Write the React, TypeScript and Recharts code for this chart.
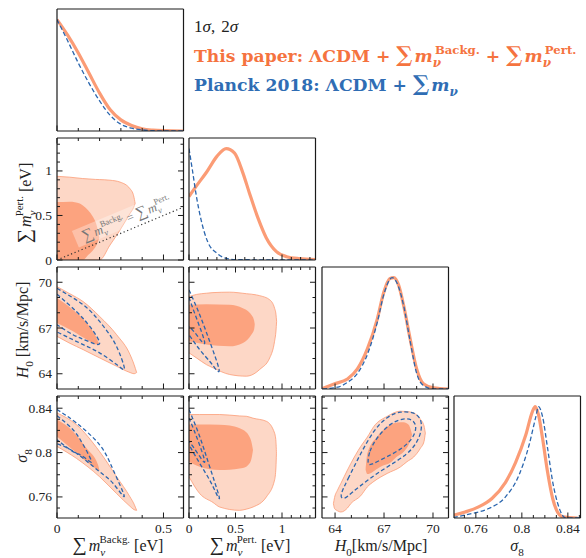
import React from 'react';
import { ComposedChart, Area, Line, XAxis, YAxis, ReferenceLine, ReferenceDot } from 'recharts';

// ticks
const backgTicks = [0, 0.1, 0.2, 0.3, 0.4, 0.5];
const backgMajor = [0, 0.5];
const pertTicks = [0, 0.1, 0.2, 0.3, 0.4, 0.5, 0.6, 0.7, 0.8, 0.9, 1, 1.1, 1.2, 1.3];
const pertMajor = [0, 0.5, 1];
const h0Ticks = [64, 65, 66, 67, 68, 69, 70];
const h0Major = [64, 67, 70];
const s8Ticks = [0.75, 0.76, 0.77, 0.78, 0.79, 0.8, 0.81, 0.82, 0.83, 0.84, 0.85];
const s8Major = [0.76, 0.8, 0.84];

// axis ranges
const backgRange = [0, 0.594];
const pertRangeX = [0, 1.36];
const pertRangeY = [0, 1.37];
const h0RangeX = [63.2, 70.95];
const h0RangeY = [63, 71];
const s8Range = [0.741, 0.851];
const pdfRange = [0, 1.095];
const equalLine = [0, 0.594];

// 1D marginals (normalised to peak)
const backgX = [0, 0.05, 0.1, 0.15, 0.2, 0.25, 0.3, 0.35, 0.4, 0.45, 0.5, 0.594];
const backgThis = [1, 0.86, 0.7, 0.52, 0.34, 0.19, 0.1, 0.05, 0.02, 0.008, 0.003, 0];
const backgPlanck = [1, 0.81, 0.61, 0.43, 0.27, 0.14, 0.06, 0.025, 0.01, 0.003, 0.001, 0];

const pertX = [0, 0.08, 0.19, 0.3, 0.4, 0.49, 0.58, 0.65, 0.74, 0.83, 0.94, 1.05, 1.19, 1.36];
const pertThis = [0.57, 0.665, 0.79, 0.93, 1.0, 0.96, 0.78, 0.6, 0.38, 0.2, 0.075, 0.03, 0.012, 0.004];
const pertPlanckX = [0, 0.036, 0.08, 0.13, 0.2, 0.3, 0.4, 0.5, 1.36];
const pertPlanck = [1.0, 0.81, 0.57, 0.36, 0.165, 0.06, 0.015, 0.003, 0];

const h0X = [63.23, 63.94, 64.76, 65.37, 65.98, 66.59, 66.99, 67.35, 67.6, 67.9, 68.2, 68.6, 69.0, 69.43, 70.04, 70.95];
const h0This = [0.005, 0.045, 0.09, 0.18, 0.36, 0.63, 0.87, 0.99, 1.0, 0.93, 0.75, 0.45, 0.18, 0.045, 0.01, 0];
const h0PlanckX = [63.23, 64.25, 64.76, 65.37, 65.98, 66.59, 66.99, 67.5, 67.8, 68.2, 68.6, 69.0, 69.43, 70.04, 70.95];
const h0Planck = [0, 0.02, 0.06, 0.14, 0.31, 0.6, 0.85, 1.0, 0.95, 0.75, 0.43, 0.14, 0.03, 0, 0];

const s8X = [0.7404, 0.7507, 0.7624, 0.774, 0.7858, 0.7946, 0.8034, 0.8092, 0.8116, 0.8145, 0.818, 0.8224, 0.8268, 0.8312, 0.8356, 0.8485];
const s8This = [0.024, 0.054, 0.1, 0.175, 0.32, 0.5, 0.745, 0.955, 1.0, 0.925, 0.715, 0.41, 0.175, 0.05, 0.01, 0];
const s8PlanckX = [0.7404, 0.7565, 0.7712, 0.7858, 0.7975, 0.8063, 0.8122, 0.8145, 0.818, 0.8224, 0.8268, 0.8312, 0.8356, 0.8385, 0.851];
const s8Planck = [0.005, 0.04, 0.085, 0.19, 0.385, 0.655, 0.91, 1.0, 0.91, 0.625, 0.325, 0.13, 0.02, 0, 0];

// Backg. vs Pert. (this paper only)
const bpLightX = [0, 0.06, 0.12, 0.18, 0.2, 0.249, 0.296, 0.343, 0.36, 0.367];
const bpLightLo = [0, 0, 0, 0, 0, 0.168, 0.336, 0.523, 0.59, 0.635];
const bpLightHi = [0.94, 0.93, 0.915, 0.905, 0.903, 0.896, 0.875, 0.8, 0.72, 0.635];
const bpDarkX = [0, 0.06, 0.107, 0.123, 0.146, 0.17, 0.185, 0.199];
const bpDarkLo = [0, 0, 0, 0, 0.055, 0.112, 0.165, 0.25];
const bpDarkHi = [0.65, 0.655, 0.635, 0.61, 0.56, 0.48, 0.4, 0.25];

// Backg. vs H0
const bhLightX = [0, 0.06, 0.123, 0.2, 0.28, 0.343, 0.362, 0.374];
const bhLightLo = [66.45, 66.0, 65.58, 65.04, 64.49, 64.08, 64.0, 64.08];
const bhLightHi = [69.71, 69.25, 68.73, 67.76, 66.56, 65.26, 64.6, 64.08];
const bhDarkX = [0, 0.075, 0.139, 0.186, 0.198];
const bhDarkLo = [67.33, 66.78, 66.24, 65.91, 65.96];
const bhDarkHi = [68.96, 68.19, 67.33, 66.35, 65.96];
const bhOuterX = [0, 0.123, 0.2, 0.264, 0.303, 0.316, 0.28, 0.2, 0.123, 0];
const bhOuterY = [69.6, 68.52, 67.43, 66.2, 65.0, 64.28, 64.6, 65.37, 65.91, 66.74];
const bhInnerX = [0, 0.091, 0.154, 0.2, 0.139, 0.075, 0];
const bhInnerY = [69.22, 68.08, 67.1, 65.98, 66.17, 66.56, 67.21];

// Backg. vs sigma8
const bsLightX = [0, 0.091, 0.2, 0.28, 0.343, 0.362, 0.374];
const bsLightLo = [0.8055, 0.7948, 0.7782, 0.763, 0.7515, 0.7485, 0.7479];
const bsLightHi = [0.8357, 0.8252, 0.8009, 0.7782, 0.76, 0.7535, 0.7479];
const bsDarkX = [0, 0.075, 0.139, 0.193, 0.2];
const bsDarkLo = [0.8145, 0.8024, 0.7918, 0.7843, 0.7835];
const bsDarkHi = [0.8297, 0.8191, 0.8039, 0.7888, 0.7835];
const bsOuterX = [0, 0.091, 0.2, 0.264, 0.316, 0.264, 0.2, 0.091, 0];
const bsOuterY = [0.8388, 0.8267, 0.807, 0.7843, 0.7606, 0.7721, 0.7827, 0.7994, 0.8079];
const bsInnerX = [0, 0.075, 0.123, 0.162, 0.123, 0.075, 0];
const bsInnerY = [0.8333, 0.8206, 0.807, 0.7918, 0.7964, 0.8009, 0.8115];

// Pert. vs H0
const phLightX = [0, 0.08, 0.187, 0.258, 0.437, 0.617, 0.725, 0.76, 0.868, 0.92, 0.935, 0.942];
const phLightLo = [65.37, 65.04, 64.6, 64.39, 63.95, 63.84, 64.1, 64.28, 65.04, 66.13, 66.8, 67.43];
const phLightHi = [69.06, 69.2, 69.28, 69.32, 69.35, 69.25, 69.17, 69.12, 68.85, 68.3, 67.9, 67.43];
const phDarkX = [0, 0.187, 0.437, 0.58, 0.67, 0.7, 0.707];
const phDarkLo = [66.13, 65.91, 65.8, 66.02, 66.56, 66.9, 67.25];
const phDarkHi = [68.52, 68.56, 68.52, 68.3, 67.87, 67.5, 67.25];
const phOuterX = [0, 0.115, 0.222, 0.323, 0.276, 0.222, 0.115, 0];
const phOuterY = [69.5, 67.87, 66.13, 64.28, 64.39, 64.82, 65.58, 66.56];
const phInnerX = [0, 0.08, 0.169, 0.08, 0];
const phInnerY = [69.0, 67.65, 66.02, 66.56, 67.1];

// Pert. vs sigma8
const psLightX = [0, 0.115, 0.258, 0.33, 0.545, 0.617, 0.688, 0.832, 0.92, 0.935, 0.94];
const psLightLo = [0.7782, 0.763, 0.755, 0.7509, 0.7479, 0.749, 0.7509, 0.76, 0.7752, 0.787, 0.7994];
const psLightHi = [0.8343, 0.8343, 0.8343, 0.8343, 0.833, 0.8327, 0.831, 0.8282, 0.8176, 0.81, 0.7994];
const psDarkX = [0, 0.115, 0.33, 0.437, 0.545, 0.58, 0.652, 0.67, 0.688];
const psDarkLo = [0.7918, 0.7873, 0.7843, 0.7845, 0.7857, 0.786, 0.7903, 0.794, 0.8024];
const psDarkHi = [0.8252, 0.8252, 0.825, 0.8243, 0.822, 0.8206, 0.814, 0.81, 0.8024];
const psOuterX = [0, 0.115, 0.222, 0.323, 0.294, 0.222, 0.115, 0];
const psOuterY = [0.8388, 0.8145, 0.7873, 0.7606, 0.763, 0.7752, 0.7903, 0.807];
const psInnerX = [0, 0.08, 0.169, 0.08, 0];
const psInnerY = [0.8312, 0.8145, 0.7918, 0.8009, 0.81];

// H0 vs sigma8
const hsLightX = [63.9, 63.97, 64.15, 64.35, 64.76, 64.96, 65.57, 65.98, 66.38, 67.2, 68.0, 68.41, 68.82, 69.23, 69.45, 69.53];
const hsLightLo = [0.754, 0.7495, 0.7475, 0.7464, 0.75, 0.7539, 0.761, 0.7691, 0.774, 0.7812, 0.787, 0.7918, 0.796, 0.8039, 0.81, 0.8176];
const hsLightHi = [0.754, 0.7595, 0.7661, 0.772, 0.7843, 0.79, 0.8055, 0.814, 0.8236, 0.8327, 0.8373, 0.837, 0.8357, 0.83, 0.824, 0.8176];
const hsDarkX = [65.87, 65.98, 66.59, 66.79, 67.4, 67.8, 68.2, 68.51, 68.72];
const hsDarkLo = [0.7845, 0.7806, 0.7855, 0.7873, 0.791, 0.7964, 0.8005, 0.807, 0.816];
const hsDarkHi = [0.7845, 0.7994, 0.8145, 0.818, 0.8252, 0.827, 0.8273, 0.825, 0.816];
const hsOuterX = [64.24, 64.76, 65.57, 66.38, 67.2, 68.0, 68.82, 69.27, 69.33, 69.02, 68.41, 67.2, 65.98, 64.96, 64.55];
const hsOuterY = [0.76, 0.7752, 0.7994, 0.8206, 0.8327, 0.8373, 0.8364, 0.8312, 0.8206, 0.8085, 0.7979, 0.7873, 0.7752, 0.763, 0.7576];
const hsInnerX = [65.98, 66.07, 66.59, 67.4, 68.2, 68.82, 69.02, 68.72, 68.0, 66.99, 66.18];
const hsInnerY = [0.7888, 0.8009, 0.8145, 0.8267, 0.8312, 0.8297, 0.8221, 0.8115, 0.8024, 0.7948, 0.7888];

// layout
const COLS = [57, 189, 322, 454];
const ROWS = [9, 138, 267, 396];
const PW = 126.5;
const PH = 122;
const PAD_L = 48;
const PAD_B = 22;
const PAD_T = 2;
const PAD_R = 2;

const SERIF = '"Liberation Serif", "DejaVu Serif", serif';
const LIGHT = '#fdd7c6';
const DARK = '#fca37f';
const ORANGE = '#fb9c76';
const BLUE = '#2b66ae';
const TXT_ORANGE = '#f5733f';
const TXT_BLUE = '#2f6db4';

const band = (xs: number[], lo: number[], hi: number[]) => xs.map((x, i) => ({ x, r: [lo[i], hi[i]] }));
const pts = (xs: number[], ys: number[]) => xs.map((x, i) => ({ x, y: ys[i] }));

const Tick = (props: any) => {
  const { x, y, payload, side, major, label } = props;
  const v = payload.value;
  const big = major.some((m: number) => Math.abs(m - v) < 1e-6);
  const len = big ? 5.5 : 3;
  let x2 = x;
  let y2 = y;
  if (side === 'bottom') y2 = y - len;
  if (side === 'top') y2 = y + len;
  if (side === 'left') x2 = x + len;
  if (side === 'right') x2 = x - len;
  return (
    <g>
      <line x1={x} y1={y} x2={x2} y2={y2} stroke="#1a1a1a" strokeWidth={1} />
      {label && big && side === 'bottom' && (
        <text x={x} y={y + 15} textAnchor="middle" fontFamily={SERIF} fontSize={13.5} fill="#222">{v}</text>
      )}
      {label && big && side === 'left' && (
        <text x={x - 5} y={y + 4.5} textAnchor="end" fontFamily={SERIF} fontSize={13.5} fill="#222">{v}</text>
      )}
    </g>
  );
};

const Panel = ({ col, row, xd, yd, xt, xm, yt, ym, children }: any) => {
  const diag = col === row;
  const axisLine = { stroke: '#1a1a1a', strokeWidth: 1.2 };
  const common: any = { type: 'number', allowDataOverflow: true, interval: 0, tickSize: 0, tickMargin: 0, tickLine: false, axisLine };
  return (
    <div style={{ position: 'absolute', left: COLS[col] - PAD_L, top: ROWS[row] - PAD_T }}>
      <ComposedChart width={PW + PAD_L + PAD_R} height={PH + PAD_T + PAD_B} margin={{ top: 0, right: 0, bottom: 0, left: 0 }}>
        {children}
        <XAxis xAxisId="b" dataKey="x" orientation="bottom" height={PAD_B} domain={xd} ticks={xt}
          tick={<Tick side="bottom" major={xm} label={row === 3} />} {...common} />
        <XAxis xAxisId="t" dataKey="x" orientation="top" height={PAD_T} domain={xd} ticks={xt}
          tick={diag ? false : <Tick side="top" major={xm} />} {...common} />
        <YAxis yAxisId="l" orientation="left" width={PAD_L} domain={yd} ticks={yt}
          tick={diag ? false : <Tick side="left" major={ym} label={col === 0} />} {...common} />
        <YAxis yAxisId="r" orientation="right" width={PAD_R} domain={yd} ticks={yt}
          tick={diag ? false : <Tick side="right" major={ym} />} {...common} />
      </ComposedChart>
    </div>
  );
};

const marginal = (id: string, tx: number[], ty: number[], px: number[], py: number[]) => [
  <Line key={id + 'o'} data={pts(tx, ty)} dataKey="y" xAxisId="b" yAxisId="l" type="monotone" stroke={ORANGE}
    strokeWidth={3.2} dot={false} activeDot={false} isAnimationActive={false} />,
  <Line key={id + 'b'} data={pts(px, py)} dataKey="y" xAxisId="b" yAxisId="l" type="monotone" stroke={BLUE}
    strokeWidth={1.3} strokeDasharray="4.5 2.5" dot={false} activeDot={false} isAnimationActive={false} />,
];

const fills = (id: string, light: any[], dark: any[]) => [
  <Area key={id + 'l'} data={light} dataKey="r" xAxisId="b" yAxisId="l" type="monotone" fill={LIGHT} fillOpacity={1}
    stroke={ORANGE} strokeWidth={0.8} dot={false} activeDot={false} isAnimationActive={false} />,
  <Area key={id + 'd'} data={dark} dataKey="r" xAxisId="b" yAxisId="l" type="monotone" fill={DARK} fillOpacity={1}
    stroke="none" dot={false} activeDot={false} isAnimationActive={false} />,
];

const dashed = (id: string, data: any[], closed: boolean) => (
  <Line key={id} data={data} dataKey="y" xAxisId="b" yAxisId="l" type={closed ? 'basisClosed' : 'natural'} stroke={BLUE}
    strokeWidth={1.3} strokeDasharray="4 2.5" dot={false} activeDot={false} isAnimationActive={false} />
);

const sumT = (sup: string | null, fs: number) => [
  <tspan key="s" fontSize={fs * 1.25} fontStyle="normal">∑</tspan>,
  <tspan key="m" dx={fs * 0.12} fontStyle="italic">m</tspan>,
  <tspan key="n" fontStyle="italic" fontSize={fs * 0.7} dy={fs * 0.3}>ν</tspan>,
  sup ? <tspan key="u" fontStyle="normal" fontSize={fs * 0.68} dx={-fs * 0.36} dy={-fs * 0.78}>{sup}</tspan> : null,
];

const diagAngle = (Math.atan((PH / pertRangeY[1]) / (PW / backgRange[1])) * 180) / Math.PI;

const EqualLabel = (p: any) => (
  <g transform={`rotate(${-diagAngle} ${p.cx} ${p.cy})`}>
    <rect x={p.cx - 55} y={p.cy - 12} width={110} height={18} fill="#fff" fillOpacity={0.32} />
    <text x={p.cx} y={p.cy + 2} textAnchor="middle" fontFamily={SERIF} fontSize={12.5} fill="#777">
      {sumT('Backg.', 12.5)}
      <tspan dy={12.5 * 0.48}> = </tspan>
      {sumT('Pert.', 12.5)}
    </text>
  </g>
);

const Titles = () => {
  const fs = 16;
  const lg = 17.2;
  return (
    <svg width={586} height={558} style={{ position: 'absolute', left: 0, top: 0, pointerEvents: 'none' }}>
      <g fontFamily={SERIF} fill="#222" fontSize={fs}>
        <text x={118} y={551} textAnchor="middle">{sumT('Backg.', fs)}<tspan dy={fs * 0.48}> [eV]</tspan></text>
        <text x={250} y={551} textAnchor="middle">{sumT('Pert.', fs)}<tspan dy={fs * 0.48}> [eV]</tspan></text>
        <text x={381} y={551} textAnchor="middle">
          <tspan fontStyle="italic">H</tspan><tspan fontSize={fs * 0.7} dy={fs * 0.3}>0</tspan>
          <tspan dy={-fs * 0.3}>[km/s/Mpc]</tspan>
        </text>
        <text x={517} y={551} textAnchor="middle">
          <tspan fontStyle="italic">σ</tspan><tspan fontSize={fs * 0.7} dy={fs * 0.3}>8</tspan>
        </text>
        <text x={31} y={203} textAnchor="middle" transform="rotate(-90 31 203)">
          {sumT('Pert.', fs)}<tspan dy={fs * 0.48}> [eV]</tspan>
        </text>
        <text x={28} y={330} textAnchor="middle" transform="rotate(-90 28 330)">
          <tspan fontStyle="italic">H</tspan><tspan fontSize={fs * 0.7} dy={fs * 0.3}>0</tspan>
          <tspan dy={-fs * 0.3}> [km/s/Mpc]</tspan>
        </text>
        <text x={27} y={456} textAnchor="middle" transform="rotate(-90 27 456)">
          <tspan fontStyle="italic">σ</tspan><tspan fontSize={fs * 0.7} dy={fs * 0.3}>8</tspan>
        </text>
      </g>
      <text x={194} y={32} fontFamily={SERIF} fontSize={17} fill="#222">
        1<tspan fontStyle="italic">σ</tspan>,<tspan dx={6}>2</tspan><tspan fontStyle="italic">σ</tspan>
      </text>
      <text x={194} y={62} fontFamily='"DejaVu Serif", serif' fontWeight="bold" fontSize={lg} fill={TXT_ORANGE}>
        This paper: ΛCDM + {sumT('Backg.', lg)}<tspan dy={lg * 0.48}> + </tspan>{sumT('Pert.', lg)}
      </text>
      <text x={194} y={91} fontFamily='"DejaVu Serif", serif' fontWeight="bold" fontSize={lg} fill={TXT_BLUE}>
        Planck 2018: ΛCDM + {sumT(null, lg)}
      </text>
    </svg>
  );
};

export default function App() {
  return (
    <div style={{ position: 'absolute', left: 0, top: 0, width: 586, height: 558, background: '#fff', overflow: 'hidden' }}>
      {/* diagonal: 1D marginals */}
      <Panel col={0} row={0} xd={backgRange} yd={pdfRange} xt={backgTicks} xm={backgMajor}>
        {marginal('m0', backgX, backgThis, backgX, backgPlanck)}
      </Panel>
      <Panel col={1} row={1} xd={pertRangeX} yd={pdfRange} xt={pertTicks} xm={pertMajor}>
        {marginal('m1', pertX, pertThis, pertPlanckX, pertPlanck)}
      </Panel>
      <Panel col={2} row={2} xd={h0RangeX} yd={pdfRange} xt={h0Ticks} xm={h0Major}>
        {marginal('m2', h0X, h0This, h0PlanckX, h0Planck)}
      </Panel>
      <Panel col={3} row={3} xd={s8Range} yd={pdfRange} xt={s8Ticks} xm={s8Major}>
        {marginal('m3', s8X, s8This, s8PlanckX, s8Planck)}
      </Panel>

      {/* lower triangle: 2D contours */}
      <Panel col={0} row={1} xd={backgRange} yd={pertRangeY} xt={backgTicks} xm={backgMajor} yt={pertTicks} ym={pertMajor}>
        {fills('bp', band(bpLightX, bpLightLo, bpLightHi), band(bpDarkX, bpDarkLo, bpDarkHi))}
        <ReferenceLine xAxisId="b" yAxisId="l" segment={[{ x: equalLine[0], y: equalLine[0] }, { x: equalLine[1], y: equalLine[1] }]}
          stroke="#333" strokeWidth={1.2} strokeDasharray="1.2 2.6" ifOverflow="hidden" />
        <ReferenceDot xAxisId="b" yAxisId="l" x={0.33} y={0.44} r={1} shape={EqualLabel} />
      </Panel>
      <Panel col={0} row={2} xd={backgRange} yd={h0RangeY} xt={backgTicks} xm={backgMajor} yt={h0Ticks} ym={h0Major}>
        {fills('bh', band(bhLightX, bhLightLo, bhLightHi), band(bhDarkX, bhDarkLo, bhDarkHi))}
        {dashed('bho', pts(bhOuterX, bhOuterY), false)}
        {dashed('bhi', pts(bhInnerX, bhInnerY), false)}
      </Panel>
      <Panel col={0} row={3} xd={backgRange} yd={s8Range} xt={backgTicks} xm={backgMajor} yt={s8Ticks} ym={s8Major}>
        {fills('bs', band(bsLightX, bsLightLo, bsLightHi), band(bsDarkX, bsDarkLo, bsDarkHi))}
        {dashed('bso', pts(bsOuterX, bsOuterY), false)}
        {dashed('bsi', pts(bsInnerX, bsInnerY), false)}
      </Panel>
      <Panel col={1} row={2} xd={pertRangeX} yd={h0RangeY} xt={pertTicks} xm={pertMajor} yt={h0Ticks} ym={h0Major}>
        {fills('ph', band(phLightX, phLightLo, phLightHi), band(phDarkX, phDarkLo, phDarkHi))}
        {dashed('pho', pts(phOuterX, phOuterY), false)}
        {dashed('phi', pts(phInnerX, phInnerY), false)}
      </Panel>
      <Panel col={1} row={3} xd={pertRangeX} yd={s8Range} xt={pertTicks} xm={pertMajor} yt={s8Ticks} ym={s8Major}>
        {fills('ps', band(psLightX, psLightLo, psLightHi), band(psDarkX, psDarkLo, psDarkHi))}
        {dashed('pso', pts(psOuterX, psOuterY), false)}
        {dashed('psi', pts(psInnerX, psInnerY), false)}
      </Panel>
      <Panel col={2} row={3} xd={h0RangeX} yd={s8Range} xt={h0Ticks} xm={h0Major} yt={s8Ticks} ym={s8Major}>
        {fills('hs', band(hsLightX, hsLightLo, hsLightHi), band(hsDarkX, hsDarkLo, hsDarkHi))}
        {dashed('hso', pts(hsOuterX, hsOuterY), true)}
        {dashed('hsi', pts(hsInnerX, hsInnerY), true)}
      </Panel>

      <Titles />
    </div>
  );
}
